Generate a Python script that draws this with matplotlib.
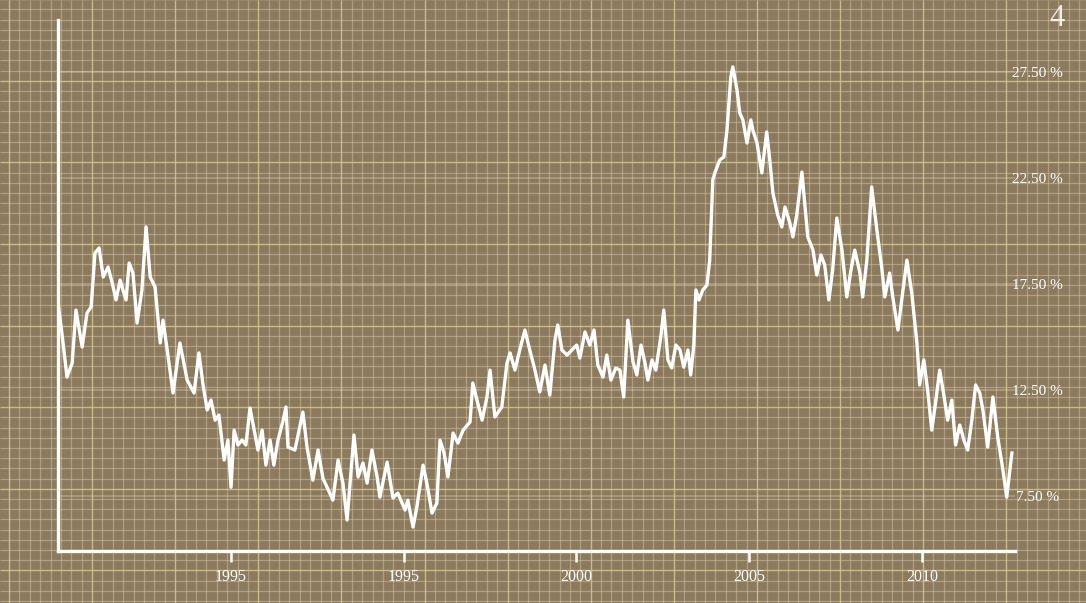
import matplotlib
matplotlib.use("Agg")
import matplotlib.pyplot as plt
import numpy as np

# Data (decimal year, percent)
years = [
    1985.00, 1985.11, 1985.25, 1985.40, 1985.51, 1985.69, 1985.83, 1985.95, 1986.06, 1986.18,
    1986.30, 1986.44, 1986.56, 1986.67, 1986.79, 1986.87, 1986.96, 1987.05, 1987.16, 1987.28,
    1987.42, 1987.54, 1987.66, 1987.80, 1987.95, 1988.03, 1988.18, 1988.32, 1988.44, 1988.52,
    1988.73, 1988.93, 1989.07, 1989.19, 1989.31, 1989.42, 1989.54, 1989.65, 1989.80, 1989.91,
    1990.00, 1990.09, 1990.20, 1990.32, 1990.43, 1990.55, 1990.67, 1990.78, 1990.90, 1991.01,
    1991.13, 1991.24, 1991.36, 1991.51, 1991.59, 1991.65, 1991.85, 1992.08, 1992.20, 1992.37,
    1992.52, 1992.66, 1992.95, 1993.10, 1993.24, 1993.36, 1993.56, 1993.68, 1993.82, 1993.94,
    1994.08, 1994.23, 1994.31, 1994.52, 1994.69, 1994.83, 1995.04, 1995.12, 1995.27, 1995.38,
    1995.56, 1995.67, 1995.82, 1995.96, 1996.05, 1996.17, 1996.28, 1996.43, 1996.57, 1996.72,
    1996.92, 1997.00, 1997.12, 1997.27, 1997.41, 1997.50, 1997.64, 1997.84, 1997.99, 1998.08,
    1998.22, 1998.36, 1998.51, 1998.65, 1998.80, 1998.94, 1999.09, 1999.23, 1999.38, 1999.46,
    1999.58, 1999.73, 1999.87, 2000.01, 2000.10, 2000.25, 2000.39, 2000.51, 2000.62, 2000.77,
    2000.88, 2001.00, 2001.14, 2001.26, 2001.37, 2001.49, 2001.64, 2001.75, 2001.87, 2001.98,
    2002.07, 2002.19, 2002.30, 2002.45, 2002.53, 2002.65, 2002.76, 2002.88, 2003.00, 2003.11,
    2003.23, 2003.31, 2003.40, 2003.46, 2003.55, 2003.66, 2003.78, 2003.86, 2003.95, 2004.01,
    2004.15, 2004.27, 2004.36, 2004.47, 2004.53, 2004.65, 2004.73, 2004.82, 2004.94, 2005.05,
    2005.11, 2005.23, 2005.37, 2005.51, 2005.60, 2005.69, 2005.83, 2005.95, 2006.04, 2006.18,
    2006.27, 2006.38, 2006.53, 2006.70, 2006.85, 2006.96, 2007.08, 2007.19, 2007.31, 2007.42,
    2007.54, 2007.69, 2007.83, 2007.95, 2008.06, 2008.21, 2008.29, 2008.41, 2008.55, 2008.70,
    2008.84, 2008.93, 2009.07, 2009.16, 2009.31, 2009.42, 2009.57, 2009.71, 2009.86, 2009.94,
    2010.06, 2010.17, 2010.29, 2010.41, 2010.52, 2010.64, 2010.75, 2010.87, 2010.98, 2011.10,
    2011.22, 2011.33, 2011.45, 2011.56, 2011.68, 2011.77, 2011.91, 2012.06, 2012.20, 2012.35,
    2012.46, 2012.61,
]
rates = [
    16.51, 15.09, 13.11, 13.77, 16.27, 14.53, 16.13, 16.42, 18.96, 19.20,
    17.83, 18.30, 17.55, 16.75, 17.69, 17.22, 16.75, 18.49, 18.02, 15.66,
    17.22, 20.19, 17.83, 17.36, 14.72, 15.80, 14.06, 12.36, 13.77, 14.72,
    12.97, 12.36, 14.25, 12.74, 11.56, 12.03, 11.08, 11.32, 9.20, 10.14,
    7.92, 10.61, 9.91, 10.14, 9.91, 11.65, 10.61, 9.67, 10.61, 8.96,
    10.14, 8.96, 10.14, 11.08, 11.70, 9.81, 9.67, 11.46, 9.81, 8.25,
    9.67, 8.35, 7.31, 9.20, 8.11, 6.37, 10.38, 8.40, 9.06, 8.11,
    9.67, 8.40, 7.45, 9.10, 7.41, 7.64, 6.84, 7.31, 6.04, 6.98,
    8.96, 8.11, 6.70, 7.17, 10.14, 9.53, 8.40, 10.47, 10.00, 10.61,
    10.99, 12.83, 12.03, 11.08, 12.17, 13.44, 11.23, 11.70, 13.77, 14.25,
    13.44, 14.39, 15.33, 14.39, 13.44, 12.41, 13.68, 12.26, 14.86, 15.57,
    14.39, 14.15, 14.39, 14.62, 14.01, 15.24, 14.62, 15.33, 13.68, 13.11,
    14.15, 12.97, 13.54, 13.44, 12.17, 15.80, 13.82, 13.21, 14.62, 13.82,
    12.97, 13.92, 13.44, 15.09, 16.27, 13.92, 13.54, 14.62, 14.39, 13.58,
    14.39, 13.21, 14.62, 17.22, 16.75, 17.22, 17.45, 18.63, 22.41, 22.74,
    23.35, 23.49, 24.76, 27.26, 27.74, 26.65, 25.57, 25.24, 24.15, 25.24,
    24.76, 24.15, 22.74, 24.67, 23.35, 21.79, 20.75, 20.19, 21.13, 20.38,
    19.72, 20.75, 22.78, 19.72, 19.10, 17.92, 18.87, 18.40, 16.75, 18.16,
    20.61, 19.10, 16.89, 18.16, 19.10, 18.02, 16.89, 18.63, 22.08, 20.05,
    18.30, 16.89, 18.02, 16.89, 15.33, 16.75, 18.63, 17.08, 14.72, 12.74,
    13.92, 12.50, 10.61, 12.03, 13.44, 12.26, 11.08, 12.03, 9.91, 10.85,
    10.14, 9.67, 11.08, 12.74, 12.36, 11.56, 9.81, 12.17, 10.28, 8.73,
    7.45, 9.53,
]

tick_years = [1990, 1995, 2000, 2005, 2010]
tick_labels = ["1995", "1995", "2000", "2005", "2010"]
y_ticks = [27.5, 22.5, 17.5, 12.5, 7.5]
y_labels = ["27.50 %", "22.50 %", "17.50 %", "12.50 %", "7.50 %"]

# Colours
paper = "#8b7a5e"
minor_grid = "#e2d2ad"
major_grid = "#d8d08a"
ink = "#ffffff"

W, H = 1086, 603
fig = plt.figure(figsize=(W / 100, H / 100), dpi=100)
fig.patch.set_facecolor(paper)

# Graph paper background (pixel coordinates)
bg = fig.add_axes([0, 0, 1, 1])
bg.set_xlim(0, W)
bg.set_ylim(H, 0)
bg.set_facecolor(paper)
bg.axis("off")
vx = 9 + np.arange(0, 110) * (83.1 / 8)
hy = 40 - 4 * 10.2 + np.arange(0, 65) * 10.2
bg.vlines(vx, 0, H, color=minor_grid, lw=0.9, alpha=0.42)
bg.hlines(hy, 0, W, color=minor_grid, lw=0.9, alpha=0.42)
bg.vlines(vx[::8], 0, H, color=major_grid, lw=1.0, alpha=0.6)
bg.hlines(hy[::8], 0, W, color=major_grid, lw=1.0, alpha=0.6)

# Main chart
ax = fig.add_axes([58 / W, 52 / H, (1015 - 58) / W, (551 - 20) / H])
ax.patch.set_alpha(0)
ax.set_xlim(1984.99, 2012.7)
ax.set_ylim(4.91, 29.95)

for v in y_ticks:
    ax.axhline(v, color="#f3e6d2", lw=1.1, alpha=0.35, xmax=1.0)

ax.plot(years, rates, color=ink, lw=2.4, solid_joinstyle="round")

for side in ["top", "right"]:
    ax.spines[side].set_visible(False)
for side in ["left", "bottom"]:
    ax.spines[side].set_color(ink)
    ax.spines[side].set_linewidth(2.4)

ax.set_xticks(tick_years)
ax.set_xticklabels(tick_labels, family="Liberation Serif", fontsize=11.5, color=ink)
ax.tick_params(axis="x", direction="out", length=8, width=1.8, color=ink, pad=5)

ax.yaxis.tick_right()
ax.set_yticks(y_ticks)
ax.set_yticklabels(y_labels, family="Liberation Serif", fontsize=11, color=ink, ha="center")
ax.tick_params(axis="y", length=0, pad=16)

fig.text(1057 / W, 1 - 19 / H, "4", family="Liberation Serif", fontsize=22,
         color="#f4f0e8", ha="center", va="center")

fig.savefig("out.png", dpi=100, facecolor=paper)
